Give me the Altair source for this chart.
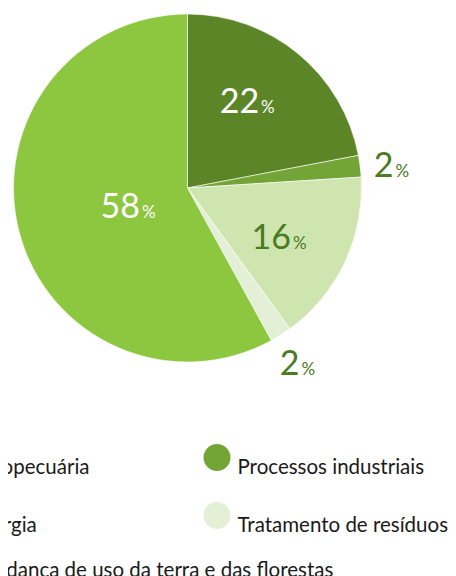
import math
import altair as alt
import pandas as pd

# ---- data ----
categories = ["Agropecuária", "Processos industriais", "Energia",
              "Tratamento de resíduos", "Mudança de uso da terra e das florestas"]
shares = [22, 2, 16, 2, 58]
label_numbers = ["22", "2", "16", "2", "58"]
colors = ["#5b8527", "#72a536", "#cfe5b0", "#e3f0d5", "#8dc63f"]

legend_col1_top = ["Agropecuária", "Energia"]
legend_col1_bottom = ["Mudança de uso da terra e das florestas"]
legend_col2 = ["Processos industriais", "Tratamento de resíduos"]

df = pd.DataFrame({
    "category": categories,
    "share": shares,
    "order": list(range(len(categories))),
    "num": label_numbers,
    "pct": ["%"] * len(categories),
})
color_of = dict(zip(categories, colors))

# ---- layout ----
CX, CY, R = 179.5, 180, 174
FONT = "Lato"
DARK_TXT = "#4b7a1f"
theta_scale = alt.Scale(domain=[0, 100], range=[0, 2 * math.pi])

# label placement: radius, dx, dy, text colour
label_layout = {
    "Agropecuária": (110, 2.5, 9.8, "white"),
    "Processos industriais": (205, 3.5, 14.7, DARK_TXT),
    "Energia": (110, 5, 14, DARK_TXT),
    "Tratamento de resíduos": (210, 0.5, 9.7, DARK_TXT),
    "Mudança de uso da terra e das florestas": (60, 11.5, 15, "white"),
}

base = alt.Chart(df)

pie = base.mark_arc(radius=R, stroke="white", strokeWidth=0.6).encode(
    x=alt.value(CX), y=alt.value(CY),
    theta=alt.Theta("share:Q", stack=True, scale=theta_scale),
    order=alt.Order("order:Q"),
    color=alt.Color("category:N", scale=alt.Scale(domain=categories, range=colors), legend=None),
)

lab_base = base.transform_window(
    cum="sum(share)", sort=[alt.SortField("order")], frame=[None, 0]
).transform_calculate(mid="datum.cum - datum.share / 2")

layers = [pie]
for cat in categories:
    r, dx, dy, col = label_layout[cat]
    sub = lab_base.transform_filter(alt.datum.category == cat)
    enc = dict(x=alt.value(CX), y=alt.value(CY),
               theta=alt.Theta("mid:Q", stack=None, scale=theta_scale))
    layers.append(sub.mark_text(radius=r, dx=dx - 1, dy=dy, align="right", baseline="alphabetic",
                                font=FONT, fontSize=34, fontWeight="normal", color=col)
                  .encode(text="num:N", **enc))
    layers.append(sub.mark_text(radius=r, dx=dx + 1, dy=dy, align="left", baseline="alphabetic",
                                font=FONT, fontSize=17, fontWeight="normal", color=col)
                  .encode(text="pct:N", **enc))


def legend_layer(items, lx, ly):
    return base.transform_filter(alt.FieldOneOfPredicate(field="category", oneOf=items)).mark_circle(
        opacity=0).encode(
        x=alt.value(CX), y=alt.value(CY),
        color=alt.Color("category:N",
                        scale=alt.Scale(domain=items, range=[color_of[c] for c in items]),
                        legend=alt.Legend(orient="none", legendX=lx, legendY=ly, direction="vertical",
                                          title=None, symbolType="circle", symbolSize=729,
                                          symbolOpacity=1, symbolStrokeWidth=0,
                                          labelFont=FONT, labelFontSize=20.5, labelColor="#1a1a1a",
                                          labelBaseline="top",
                                          labelOffset=7, rowPadding=24, padding=0, labelLimit=0)),
    )


layers.append(legend_layer(legend_col1_top, -72, 436))
layers.append(legend_layer(legend_col1_bottom, -66, 539.5))
layers.append(legend_layer(legend_col2, 195.5, 436))

chart = alt.layer(*layers).resolve_scale(color="independent").properties(
    width=440, height=568, autosize=alt.AutoSizeParams(type="none"), padding=0
).configure_view(stroke=None)

chart.save("out.html", embed_options={"renderer": "svg", "actions": False})
